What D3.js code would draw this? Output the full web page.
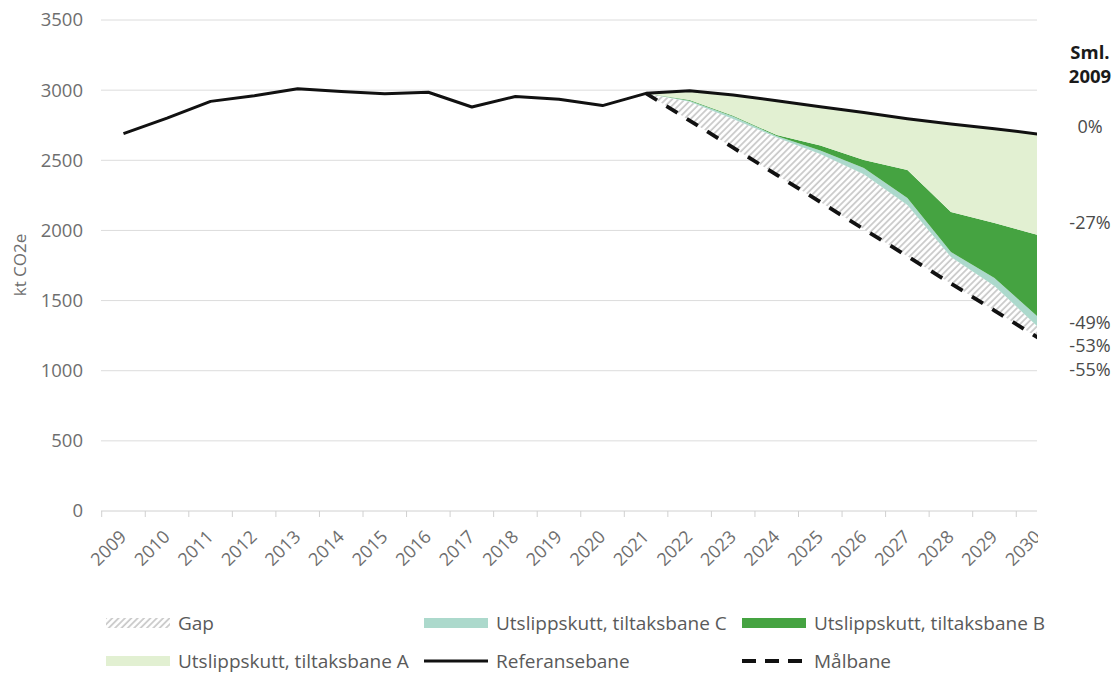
<!DOCTYPE html>
<html>
<head>
<meta charset="utf-8">
<script src="https://cdn.jsdelivr.net/npm/d3@7"></script>
<style>
  html, body { margin: 0; padding: 0; background: #fff; }
  svg { display: block; font-family: "Open Sans", sans-serif; }
</style>
</head>
<body>
<div id="chart"></div>
<script>
// years on the category axis
const years = ['2009','2010','2011','2012','2013','2014','2015','2016','2017','2018','2019',
  '2020','2021','2022','2023','2024','2025','2026','2027','2028','2029','2030'];

// Referansebane (kt CO2e)
const referanse = [2690, 2800, 2920, 2960, 3010, 2990, 2975, 2985, 2880, 2955, 2935,
  2890, 2977, 2996, 2965, 2925, 2882, 2840, 2796, 2758, 2725, 2687];

// projection years and stacked pieces, bottom to top
const futureYears = ['2021','2022','2023','2024','2025','2026','2027','2028','2029','2030'];
const malbane = [2977, 2783, 2590, 2396, 2203, 2009, 1816, 1622, 1429, 1235];
const gap     = [0, 135, 205, 266, 342, 391, 365, 189, 175, 77];
const cutC    = [0, 7, 17, 11, 25, 45, 50, 35, 57, 71];
const cutB    = [0, 5, 5, 7, 35, 57, 200, 285, 392, 584];
const cutA    = [0, 66, 148, 245, 277, 338, 365, 627, 672, 720];

const yTicks = [0, 500, 1000, 1500, 2000, 2500, 3000, 3500];
const pctLabels = ['0%', '-27%', '-49%', '-53%', '-55%'];

const W = 1118, H = 673;
const plotLeft = 101, plotRight = 1037, plotTop = 20, plotBottom = 511;

const svg = d3.select('#chart').append('svg')
  .attr('width', W).attr('height', H);

const defs = svg.append('defs');
const pat = defs.append('pattern')
  .attr('id', 'hatch')
  .attr('patternUnits', 'userSpaceOnUse')
  .attr('width', 4.5).attr('height', 4.5)
  .attr('patternTransform', 'rotate(45)');
pat.append('rect').attr('width', 4.5).attr('height', 4.5).attr('fill', '#fff');
pat.append('line').attr('x1', 1).attr('y1', 0).attr('x2', 1).attr('y2', 4.5)
  .attr('stroke', '#c8c8c8').attr('stroke-width', 1.7);

defs.append('clipPath').attr('id', 'plotclip')
  .append('rect').attr('x', plotLeft).attr('y', 0)
  .attr('width', plotRight - plotLeft).attr('height', plotBottom + 2);
defs.append('clipPath').attr('id', 'xlabclip')
  .append('rect').attr('x', 0).attr('y', 0).attr('width', 1038).attr('height', H);

const x = d3.scaleBand().domain(years).range([101.7, 101.7 + 22 * 43.55]).padding(0);
const cx = d => x(d) + x.bandwidth() / 2;
const y = d3.scaleLinear().domain([0, 3500]).range([plotBottom, plotTop]);

// gridlines
svg.append('g')
  .selectAll('line')
  .data(yTicks.filter(t => t > 0))
  .join('line')
  .attr('x1', plotLeft).attr('x2', plotRight)
  .attr('y1', d => y(d)).attr('y2', d => y(d))
  .attr('stroke', '#dcdcdc').attr('stroke-width', 1);

// y axis labels
svg.append('g')
  .attr('transform', 'translate(83,0)')
  .call(d3.axisLeft(y).tickValues(yTicks).tickFormat(d3.format('d')).tickSize(0).tickPadding(0))
  .call(g => g.select('.domain').remove())
  .call(g => g.selectAll('.tick text')
    .attr('fill', '#6e6e6e').attr('font-size', '18.5px')
    .attr('font-family', '"Open Sans", sans-serif'));

svg.append('text')
  .attr('transform', 'translate(26,265) rotate(-90)')
  .attr('text-anchor', 'middle')
  .attr('fill', '#6e6e6e')
  .attr('font-size', '17px')
  .text('kt CO2e');

// x axis line + ticks at category borders
const xg = svg.append('g');
xg.append('line')
  .attr('x1', plotLeft).attr('x2', plotRight)
  .attr('y1', plotBottom).attr('y2', plotBottom)
  .attr('stroke', '#d0d0d0');
xg.selectAll('line.tk')
  .data(years)
  .join('line')
  .attr('class', 'tk')
  .attr('x1', d => x(d)).attr('x2', d => x(d))
  .attr('y1', plotBottom).attr('y2', plotBottom + 6)
  .attr('stroke', '#d0d0d0');
xg.append('g').attr('clip-path', 'url(#xlabclip)')
  .selectAll('text')
  .data(years)
  .join('text')
  .attr('transform', d => `translate(${cx(d) + 4},538) rotate(-45)`)
  .attr('text-anchor', 'end')
  .attr('fill', '#6e6e6e')
  .attr('font-size', '18px')
  .text(d => d);

// stacked projection areas
const rows = futureYears.map((yr, i) => ({
  year: yr, base: malbane[i], gap: gap[i], C: cutC[i], B: cutB[i], A: cutA[i]
}));
const stack = d3.stack().keys(['base', 'gap', 'C', 'B', 'A']);
const series = stack(rows);
const fills = { gap: 'url(#hatch)', C: '#acd9cc', B: '#45a341', A: '#e2f0d2' };

const plot = svg.append('g').attr('clip-path', 'url(#plotclip)');

const area = d3.area()
  .x(d => cx(d.data.year))
  .y0(d => y(d[0]))
  .y1(d => y(d[1]));

plot.selectAll('path.area')
  .data(series.filter(s => s.key !== 'base'))
  .join('path')
  .attr('class', 'area')
  .attr('fill', s => fills[s.key])
  .attr('d', area);

// Målbane
plot.append('path')
  .datum(futureYears.map((yr, i) => [yr, malbane[i]]))
  .attr('fill', 'none')
  .attr('stroke', '#111')
  .attr('stroke-width', 3.8)
  .attr('stroke-dasharray', '13,11')
  .attr('d', d3.line().x(d => cx(d[0])).y(d => y(d[1])));

// Referansebane
plot.append('path')
  .datum(years.map((yr, i) => [yr, referanse[i]]))
  .attr('fill', 'none')
  .attr('stroke', '#111')
  .attr('stroke-width', 3)
  .attr('stroke-linejoin', 'round')
  .attr('d', d3.line().x(d => cx(d[0])).y(d => y(d[1])));

// right-hand comparison labels
const rightX = 1090;
svg.append('text').attr('x', rightX).attr('y', 59)
  .attr('text-anchor', 'middle').attr('font-weight', 'bold')
  .attr('font-size', '18.5px').attr('fill', '#1a1a1a').text('Sml.');
svg.append('text').attr('x', rightX).attr('y', 83)
  .attr('text-anchor', 'middle').attr('font-weight', 'bold')
  .attr('font-size', '18.5px').attr('fill', '#1a1a1a').text('2009');
const pctY = [133, 229, 329, 352, 376];
svg.append('g').selectAll('text')
  .data(pctLabels)
  .join('text')
  .attr('x', rightX).attr('y', (d, i) => pctY[i])
  .attr('text-anchor', 'middle')
  .attr('font-size', '18px')
  .attr('fill', '#4a4a4a')
  .text(d => d);

// legend
const legendItems = [
  { label: 'Gap', kind: 'hatch', x: 106, y: 623 },
  { label: 'Utslippskutt, tiltaksbane C', kind: 'C', x: 424, y: 623 },
  { label: 'Utslippskutt, tiltaksbane B', kind: 'B', x: 742, y: 623 },
  { label: 'Utslippskutt, tiltaksbane A', kind: 'A', x: 106, y: 661 },
  { label: 'Referansebane', kind: 'line', x: 424, y: 661 },
  { label: 'Målbane', kind: 'dash', x: 742, y: 661 }
];
const lg = svg.append('g').selectAll('g')
  .data(legendItems)
  .join('g')
  .attr('transform', d => `translate(${d.x},${d.y})`);
lg.each(function (d) {
  const g = d3.select(this);
  if (d.kind === 'line' || d.kind === 'dash') {
    g.append('line').attr('x1', 0).attr('x2', 64).attr('y1', 0).attr('y2', 0)
      .attr('stroke', '#111').attr('stroke-width', d.kind === 'line' ? 3 : 3.8)
      .attr('stroke-dasharray', d.kind === 'dash' ? '14,9' : null);
  } else {
    g.append('rect').attr('x', 0).attr('y', -5).attr('width', 64).attr('height', 10)
      .attr('fill', d.kind === 'hatch' ? 'url(#hatch)' : fills[d.kind]);
  }
  g.append('text').attr('x', 72).attr('y', 7)
    .attr('fill', '#5a5a5a').attr('font-size', '19px')
    .text(d.label);
});
</script>
</body>
</html>
